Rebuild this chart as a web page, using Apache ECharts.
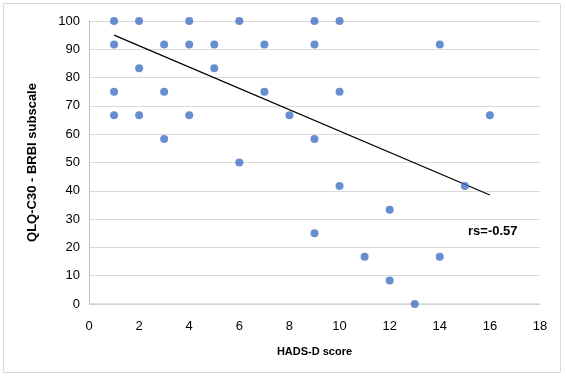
<!DOCTYPE html>
<html><head><meta charset="utf-8">
<script src="https://cdn.jsdelivr.net/npm/echarts@6/dist/echarts.min.js"></script>
<style>html,body{margin:0;padding:0;background:#fff}#c{width:566px;height:379px}</style>
</head><body><div id="c"></div>
<script>
const hadsD = [1,1,1,1, 2,2,2, 3,3,3, 4,4,4, 5,5, 6,6, 7,7, 8, 9,9,9,9, 10,10,10, 11, 12,12, 13, 14,14, 15, 16];
const qlq   = [100,91.67,75,66.67, 100,83.33,66.67, 91.67,75,58.33, 100,91.67,66.67, 91.67,83.33, 100,50, 91.67,75, 66.67, 100,91.67,58.33,25, 100,75,41.67, 16.67, 33.33,8.33, 0, 91.67,16.67, 41.67, 66.67];
const trendX = [1, 16];
const trendY = [95, 38.5];
const xTicks = [0,2,4,6,8,10,12,14,16,18];
const yTicks = [0,10,20,30,40,50,60,70,80,90,100];
const annotation = 'rs=-0.57';

const font = 'Liberation Sans';
const chart = echarts.init(document.getElementById('c'));
chart.setOption({
  animation:false,
  graphic:[
    {type:'rect',shape:{x:3.5,y:3.5,width:557,height:369},style:{fill:'none',stroke:'#d9d9d9',lineWidth:1}},
    {type:'text',left:468,top:225,style:{text:annotation,font:'bold 13px '+font,fill:'#000'}}
  ],
  grid:{left:89,right:26,top:21,bottom:75},
  xAxis:{type:'value',min:0,max:18,interval:2,
    name:'HADS-D score',nameLocation:'middle',nameGap:42,
    nameTextStyle:{fontFamily:font,fontWeight:'bold',fontSize:11,color:'#000'},
    axisLine:{show:false},axisTick:{show:false},splitLine:{show:false},
    axisLabel:{fontFamily:font,fontSize:13,color:'#000',margin:16,
      formatter:v=>xTicks.includes(v)?String(v):''}},
  yAxis:{type:'value',min:0,max:100,interval:10,
    name:'QLQ-C30 - BRBI subscale',nameLocation:'middle',nameGap:50,
    nameTextStyle:{fontFamily:font,fontWeight:'bold',fontSize:13,color:'#000'},
    axisLine:{show:true,lineStyle:{color:'#bfbfbf'}},axisTick:{show:false},
    splitLine:{show:true,lineStyle:{color:'#d9d9d9',width:1}},
    axisLabel:{fontFamily:font,fontSize:13,color:'#000',margin:9,
      formatter:v=>yTicks.includes(v)?String(v):''}},
  series:[
    {type:'scatter',data:hadsD.map((x,i)=>[x,qlq[i]]),symbolSize:8,
     itemStyle:{color:'#4472C4'},z:3},
    {type:'line',data:trendX.map((x,i)=>[x,trendY[i]]),symbol:'none',
     lineStyle:{color:'#000',width:1.25},z:2},
    {type:'line',data:[[0,0],[18,0]],symbol:'none',silent:true,
     lineStyle:{color:'#bfbfbf',width:1},z:1}
  ]
});
</script></body></html>
